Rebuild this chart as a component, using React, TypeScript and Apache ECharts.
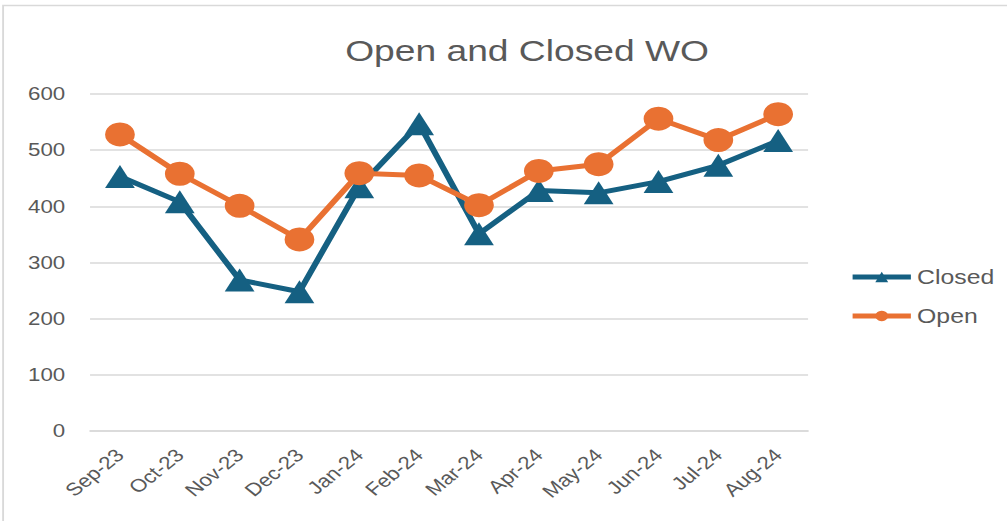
import React, { useEffect, useRef } from "react";
import * as echarts from "echarts";

const categories = ["Sep-23", "Oct-23", "Nov-23", "Dec-23", "Jan-24", "Feb-24", "Mar-24", "Apr-24", "May-24", "Jun-24", "Jul-24", "Aug-24"];
const closedValues = [453, 408, 269, 248, 435, 547, 351, 428, 424, 444, 473, 517];
const openValues = [528, 458, 401, 341, 459, 455, 402, 463, 475, 556, 518, 564];

const INNER_W = 812;
const STRETCH = 1007 / INNER_W;
const FONT = "'Liberation Sans', Arial, sans-serif";

export default function App() {
  const ref = useRef<HTMLDivElement>(null);
  useEffect(() => {
    const chart = echarts.init(ref.current!, undefined, { renderer: "svg" });
    chart.setOption({
      animation: false,
      backgroundColor: "#ffffff",
      title: {
        text: "Open and Closed WO",
        left: 420,
        top: 30,
        textAlign: "center",
        textStyle: { fontFamily: FONT, fontWeight: "normal", fontSize: 30, color: "#595959" },
      },
      graphic: [
        {
          type: "rect",
          shape: { x: 2.5, y: 5.5, width: 820, height: 520 },
          style: { fill: "none", stroke: "#d9d9d9", lineWidth: 1.5 },
        },
      ],
      legend: {
        orient: "vertical",
        left: 685,
        top: 267,
        padding: 0,
        itemWidth: 47,
        itemHeight: 13,
        itemGap: 19,
        textStyle: { fontFamily: FONT, fontSize: 20, color: "#595959" },
        lineStyle: { width: 5 },
        data: ["Closed", "Open"],
      },
      grid: { left: 72.6, right: 160.4, top: 94, bottom: 90, containLabel: false },
      xAxis: {
        type: "category",
        data: categories,
        boundaryGap: true,
        axisLine: { lineStyle: { color: "#d9d9d9", width: 1.5 } },
        axisTick: { show: false },
        axisLabel: { rotate: 45, fontFamily: FONT, fontSize: 18, color: "#595959", margin: 21 },
      },
      yAxis: {
        type: "value",
        min: 0,
        max: 600,
        interval: 100,
        axisLine: { show: false },
        axisTick: { show: false },
        splitLine: { lineStyle: { color: "#d9d9d9", width: 1.5 } },
        axisLabel: { fontFamily: FONT, fontSize: 18, color: "#595959", margin: 20 },
      },
      series: [
        {
          name: "Closed",
          type: "line",
          data: closedValues,
          symbol: "triangle",
          symbolSize: [24, 23],
          itemStyle: { color: "#156082" },
          lineStyle: { color: "#156082", width: 5 },
        },
        {
          name: "Open",
          type: "line",
          data: openValues,
          symbol: "circle",
          symbolSize: 24,
          itemStyle: { color: "#E97132" },
          lineStyle: { color: "#E97132", width: 5 },
        },
      ],
    });
    return () => chart.dispose();
  }, []);
  return (
    <div style={{ position: "absolute", left: 0, top: 0, width: 1007, height: 521, overflow: "hidden", background: "#fff" }}>
      <div
        ref={ref}
        style={{ width: INNER_W, height: 521, transform: `scaleX(${STRETCH})`, transformOrigin: "0 0" }}
      />
    </div>
  );
}
